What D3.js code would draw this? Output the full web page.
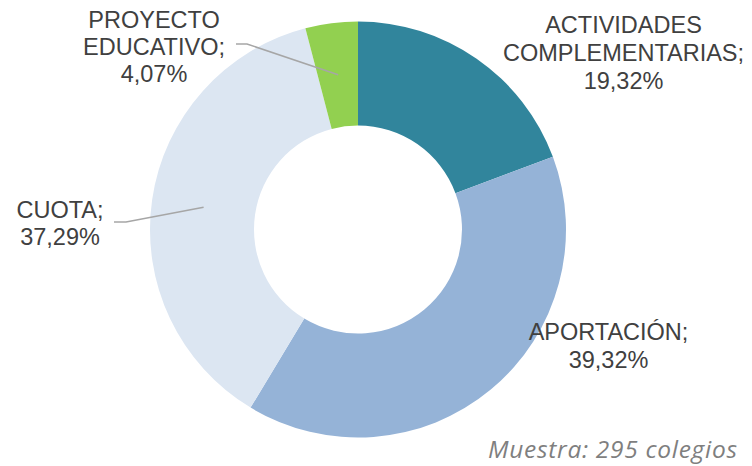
<!DOCTYPE html>
<html>
<head>
<meta charset="utf-8">
<style>
	body { margin: 0; background: #fff; }
	svg { display: block; }
	.lbl { font-family: "Liberation Sans", Arial, sans-serif; font-size: 23.5px; fill: #404040; }
</style>
</head>
<body>
	<div id="chart"></div>
	<script src="https://cdn.jsdelivr.net/npm/d3@7"></script>
	<script>
		// datos
		var categories = ['ACTIVIDADES COMPLEMENTARIAS', 'APORTACIÓN', 'CUOTA', 'PROYECTO EDUCATIVO'];
		var values = [19.32, 39.32, 37.29, 4.07];
		var labelLines = [
			['ACTIVIDADES', 'COMPLEMENTARIAS;', '19,32%'],
			['APORTACIÓN;', '39,32%'],
			['CUOTA;', '37,29%'],
			['PROYECTO', 'EDUCATIVO;', '4,07%']
		];
		var colors = ['#31859C', '#95B3D7', '#DCE6F2', '#92D050'];
		var note = 'Muestra: 295 colegios';

		var width = 752, height = 466;
		var cx = 358, cy = 229.5, outerR = 208, innerR = 104;

		var svg = d3.select('#chart').append('svg')
			.attr('width', width)
			.attr('height', height);

		var g = svg.append('g')
			.attr('transform', 'translate(' + [cx, cy] + ')');

		var pie = d3.pie().sort(null).value(d => d)
		var arcs = pie(values)
		var arc = d3.arc().innerRadius(innerR).outerRadius(outerR)

		g.selectAll('path.slice')
			.data(arcs)
			.enter().append('path')
			.attr('class', 'slice')
			.attr('d', arc)
			.attr('fill', (d, i) => colors[i])

		// posicion de las etiquetas (centro x, primera linea base y), relativo al centro
		var labelPos = [
			{ x: 265.5, y: -196.5, lh: 28 },
			{ x: 250.5, y: 110.5, lh: 28 },
			{ x: -298, y: -11.5, lh: 27 },
			{ x: -204, y: -201.8, lh: 27 }
		];
		// lineas guia: [x de inicio horizontal, y, largo del tramo horizontal]
		var leaders = { 2: [-244, -7.5, 12], 3: [-122, -185.5, 11] };

		Object.keys(leaders).forEach(k => {
			var i = +k, c = arc.centroid(arcs[i]), L = leaders[k];
			g.append('path')
				.attr('d', d3.line()([[L[0], L[1]], [L[0] + L[2], L[1]], c]))
				.attr('fill', 'none')
				.attr('stroke', '#A6A6A6')
				.attr('stroke-width', 1.5)
		})

		labelLines.forEach((lines, i) => {
			var p = labelPos[i];
			var t = g.append('text')
				.attr('class', 'lbl')
				.attr('text-anchor', 'middle')
			lines.forEach((s, j) => {
				t.append('tspan')
					.attr('x', p.x)
					.attr('y', p.y + j * p.lh)
					.text(s)
			})
		})

		svg.append('text')
			.attr('x', 488)
			.attr('y', 458)
			.attr('font-family', '"Open Sans", sans-serif')
			.attr('font-style', 'italic')
			.attr('font-size', 24.5)
			.attr('textLength', 249)
			.attr('lengthAdjust', 'spacing')
			.attr('fill', '#7F7F7F')
			.text(note)
	</script>
</body>
</html>
